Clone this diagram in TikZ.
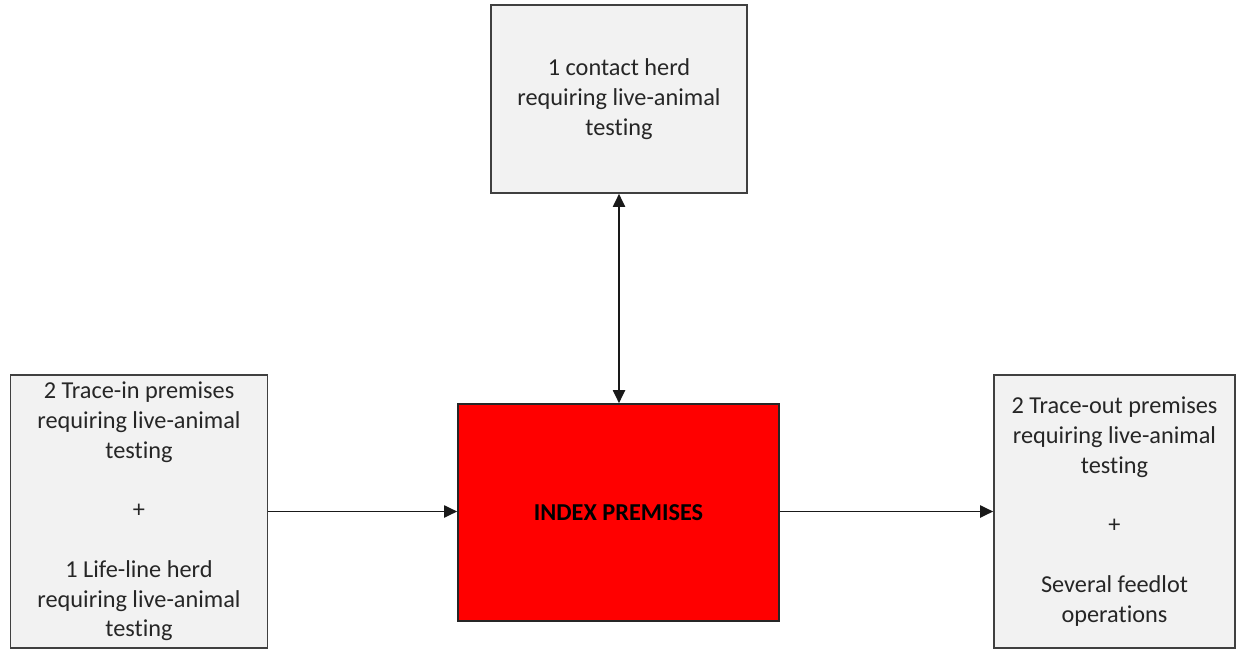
\documentclass[tikz,border=0pt]{standalone}
\usepackage{fontspec}
\setmainfont{Carlito}[RawFeature=-liga]
\usetikzlibrary{arrows.meta}
\definecolor{boxgray}{HTML}{F2F2F2}
\definecolor{edgegray}{HTML}{404040}
\definecolor{txtgray}{HTML}{262626}
\begin{document}
\begin{tikzpicture}[x=1pt,y=-1pt,
  graybox/.style={draw=edgegray,line width=1.6pt,fill=boxgray,inner sep=0pt,
    align=center,text=txtgray,font=\fontsize{24.3}{29.8}\selectfont},
  redbox/.style={draw=black!85,line width=1.6pt,fill=red,inner sep=0pt,
    align=center,font=\fontsize{24.3}{29.8}\selectfont\bfseries},
  conn/.style={line width=1.9pt,draw=black!90},
  tip/.style={-{Triangle[length=13pt,width=12pt]}}]
\useasboundingbox (0,0) rectangle (1237,650);
\node[graybox,minimum width=257pt,minimum height=273pt] (lb) at (139,511.5)
  {2 Trace-in premises\\requiring live-animal\\testing\\[29.8pt]+\\[29.8pt]1 Life-line herd\\requiring live-animal\\testing};
\node[graybox,minimum width=256pt,minimum height=188pt] (tb) at (619,99)
  {1 contact herd\\requiring live-animal\\testing};
\node[redbox,minimum width=321pt,minimum height=217pt] (idx) at (618.5,512.5)
  {INDEX PREMISES};
\node[graybox,minimum width=241pt,minimum height=273pt] (rb) at (1114.5,511.5)
  {2 Trace-out premises\\requiring live-animal\\testing\\[29.8pt]+\\[29.8pt]Several feedlot\\operations};
\draw[conn,{Triangle[length=13pt,width=12pt]}-{Triangle[length=13pt,width=12pt]}] (tb.south) -- (tb.south |- idx.north);
\draw[conn,tip] (lb.east) -- (lb.east -| idx.west);
\draw[conn,tip] (idx.east |- rb.west) -- (rb.west);
\end{tikzpicture}
\end{document}
